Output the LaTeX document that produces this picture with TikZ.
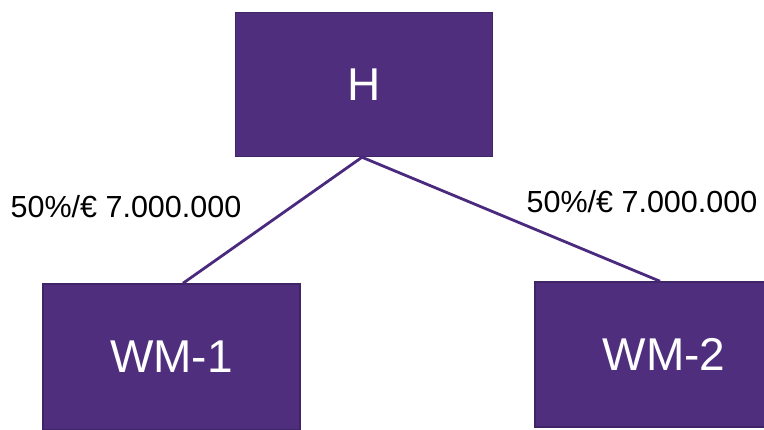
\documentclass[tikz,border=0pt]{standalone}
\usepackage{fontspec}
\setmainfont{Liberation Sans}
\definecolor{boxfill}{HTML}{4F2E7E}
\definecolor{boxline}{HTML}{3F2468}
\definecolor{linkcol}{HTML}{4A2A7E}
\tikzset{
  entity/.style={fill=boxfill, draw=boxline, line width=1.5pt, text=white,
    inner sep=0pt, font=\fontsize{46}{46}\selectfont},
  link/.style={draw=linkcol, line width=2.8pt},
  share/.style={font=\fontsize{30.5}{31}\selectfont, text=black, inner sep=0pt}
}
\begin{document}
\begin{tikzpicture}[x=1pt,y=-1pt]
\useasboundingbox (0,0) rectangle (764,429);
\clip (0,0) rectangle (764,429);
\node[entity, minimum width=257pt, minimum height=144pt] (H) at (364,84.5) {H};
\node[entity, minimum width=257pt, minimum height=146pt] (WM1) at (171.5,357) {WM-1};
\node[entity, minimum width=258pt, minimum height=145pt] (WM2) at (664,354.5) {WM-2};
\draw[link] ([xshift=-2pt]H.south) -- ([xshift=11.5pt]WM1.north);
\draw[link] ([xshift=-2pt]H.south) -- ([xshift=-4pt]WM2.north);
\node[share] (L1) at (126,207) {50\%/€ 7.000.000};
\node[share] (L2) at (642,202) {50\%/€ 7.000.000};
\end{tikzpicture}
\end{document}
